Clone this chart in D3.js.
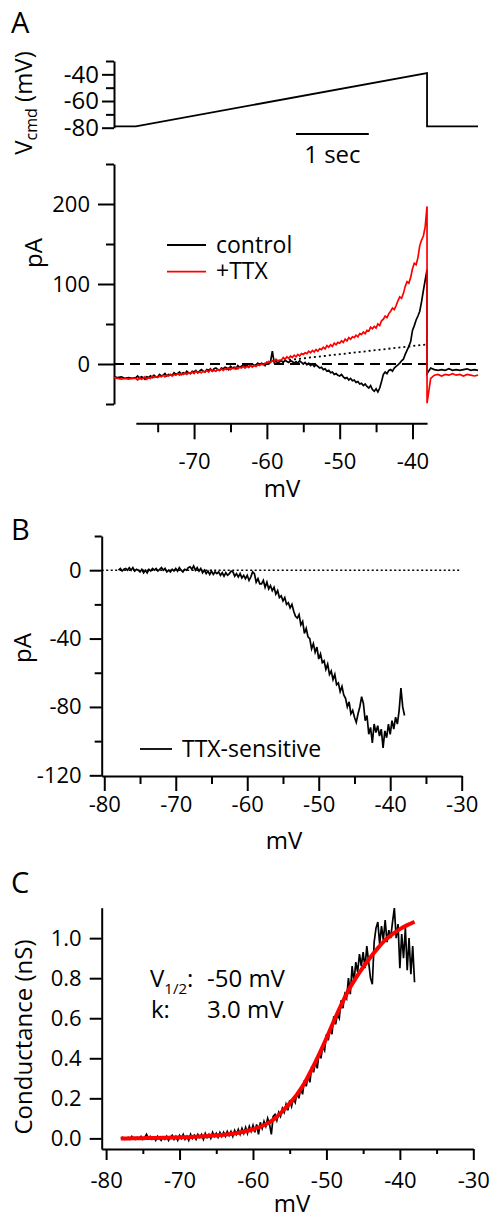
<!DOCTYPE html>
<html>
<head>
<meta charset="utf-8">
<script src="https://cdn.jsdelivr.net/npm/d3@7"></script>
<style>
  body { margin: 0; background: #fff; }
  svg { display: block; font-family: "Open Sans", sans-serif; }
</style>
</head>
<body>
<svg id="chart" width="493" height="1218"></svg>
<script>
// ---------- data ----------
// command voltage step/ramp (time in s, mV)
var cmdTime = [-0.3, 0, 4, 4, 4.7];
var cmdVolt = [-79, -79, -39, -79, -79];
var scaleBarSec = [2.2, 3.2];

// ramp sampled every 0.25 mV, -78 .. -38 (one row per mV)
var rampMV = d3.range(-78, -37.99, 0.25);

// panel A, control current (pA): holding before ramp, ramp, holding after
var ctrlPre = [-16, -17, -16, -18, -17, -18];
var ctrlRamp = [
  -17, -15, -18, -16,   -17, -19, -16, -17,   -15, -17, -14, -16,   -16, -13, -15, -14,
  -12, -15, -13, -14,   -14, -11, -13, -12,   -10, -13, -11, -12,   -9, -11, -12, -9,
  -10, -8, -11, -9,     -7, -9, -10, -7,      -8, -6, -9, -6,       -5, -7, -8, -5,
  -6, -4, -5, -7,       -3, -5, -4, -6,       -2, -4, -3, -1,       -3, -1, -4, -2,
  0, -2, -1, 1,         -1, 1, 0, -2,         2, 0, 3, 16,          2, 4, 1, 3,
  4, 2, 5, 3,           2, 4, 3, 1,           3, 1, 4, 2,           0, 2, -1, 1,
  -2, 0, -3, -1,        -3, -5, -4, -7,       -6, -9, -8, -11,      -10, -13, -12, -14,
  -15, -13, -16, -18,   -17, -20, -18, -21,   -20, -23, -22, -25,   -24, -27, -25, -28,
  -30, -27, -32, -34,   -31, -35, -30, -22,   -13, -10, -12, -8,    -7, -9, -5, -3,
  -1, 1, 4, 6,          12, 17, 22, 28,       42, 48, 55, 60,       66, 78, 92, 105,
  118];
var ctrlPost = [-12, -5, -7, -8, -7, -8, -6, -8, -7, -8, -7, -6, -8, -7, -8];

// panel A, +TTX current (pA)
var ttxPre = [-17, -18, -19, -18, -19, -18];
var ttxRamp = [
  -18, -20, -17, -19,   -18, -16, -19, -17,   -18, -15, -17, -16,   -17, -15, -16, -14,
  -16, -14, -15, -13,   -15, -13, -14, -12,   -14, -12, -13, -11,   -13, -11, -12, -10,
  -12, -9, -11, -10,    -11, -9, -10, -8,     -10, -7, -9, -8,      -9, -7, -8, -6,
  -8, -6, -7, -5,       -7, -5, -6, -4,       -6, -4, -5, -3,       -5, -3, -4, -2,
  -4, -2, -3, -1,       -2, 0, -1, 1,         1, 3, 2, 4,           3, 6, 4, 5,
  5, 8, 6, 9,           7, 10, 8, 11,         9, 12, 10, 13,        12, 14, 13, 16,
  14, 17, 15, 18,       16, 19, 18, 21,       19, 23, 21, 24,       22, 26, 24, 27,
  26, 29, 27, 31,       29, 33, 31, 34,       33, 36, 34, 38,       37, 40, 38, 42,
  41, 46, 44, 47,       45, 50, 48, 54,       56, 60, 58, 63,       66, 70, 68, 73,
  79, 84, 82, 88,       97, 103, 101, 108,    119, 126, 124, 133,   148, 155, 160, 172,
  197];
var ttxPost = [-49, -18, -14, -13, -15, -13, -14, -12, -14, -13, -15, -13, -14, -15, -14];

// leak extrapolation (dotted)
var leakMV = [-59, -38];
var leakPA = [3, 24.5];

// panel B, TTX-sensitive current (pA)
var ttxSens = [
  0, 1, -0.5, 0.5,      1, 0, 1.5, 0,         1.5, -0.5, 0.5, 0,    -1, 0.5, -1.5, 0,
  -1.5, 0.5, -0.5, 1,   0, 1, -0.5, 0.5,      1.5, 0, 1, -1,        0, -1, 0.5, -0.5,
  1, -0.5, 1.5, 0,      -1, 0.5, 0, 1.5,      2, 0.5, 2.5, 0,       1.5, -0.5, 1, -1.5,
  0, -2, -0.5, -2.5,    -0.5, -2.5, -1, -2,   -1, -3, -1.5, -3.5,   -1.5, -3, -2, -0.5,
  -1, -3.5, -2, -4,     -2, -4.5, -3, -5,     -3, -6, -4, -1,       -2, -7, -5, -8,
  -8, -6, -10, -7,      -11, -9, -12, -10,    -14, -12, -16, -15,   -18, -16, -20, -19,
  -22, -20, -24, -27,   -28, -26, -32, -30,   -37, -34, -39, -40,   -46, -43, -48, -45,
  -52, -49, -54, -53,   -58, -55, -61, -59,   -64, -61, -67, -66,   -71, -68, -73, -75,
  -80, -77, -84, -82,   -86, -89, -84, -80,   -74, -78, -88, -85,   -96, -92, -101, -90,
  -95, -91, -97, -93,   -104, -94, -98, -90,  -96, -88, -93, -86,   -90, -82, -69, -80,
  -85];

// panel C, conductance (nS)
var gData = [
  0, 0.005, -0.005, 0,        0.005, -0.005, 0.01, 0,     -0.005, 0.005, 0, 0.01,     -0.005, 0.005, 0.02, 0,
  0.01, -0.005, 0.005, -0.01, 0.01, 0, -0.01, 0.005,      -0.005, 0.01, -0.01, 0.005, 0.015, -0.005, 0.01, -0.01,
  0.015, 0, 0.02, -0.005,     0.01, -0.01, 0.02, 0,       0.015, -0.005, 0.02, 0.005, 0.02, -0.005, 0.025, 0.005,
  0.02, 0, 0.03, 0.01,        0.025, 0.005, 0.03, 0.01,   0.03, 0.01, 0.035, 0.015,   0.035, 0.01, 0.04, 0.02,
  0.045, 0.02, 0.05, 0.025,   0.055, 0.025, 0.06, 0.035,  0.065, 0.03, 0.07, 0.02,    0.08, 0.05, 0.085, 0.06,
  0.1, 0.07, 0.02, 0.11,      0.12, 0.09, 0.13, 0.11,     0.15, 0.13, 0.17, 0.14,     0.19, 0.16, 0.2, 0.18,
  0.23, 0.2, 0.25, 0.22,      0.29, 0.26, 0.31, 0.28,     0.36, 0.33, 0.38, 0.35,     0.43, 0.40, 0.46, 0.44,
  0.52, 0.49, 0.55, 0.52,     0.61, 0.57, 0.62, 0.6,      0.69, 0.65, 0.72, 0.70,     0.80, 0.72, 0.86, 0.78,
  0.88, 0.83, 0.92, 0.86,     0.93, 0.85, 0.96, 0.88,     0.80, 0.77, 0.98, 1.05,     1.08, 0.97, 1.06, 0.99,
  1.09, 0.98, 1.04, 1.0,      1.08, 1.15, 1.0, 1.07,      0.85, 1.02, 0.90, 1.05,     0.84, 1.0, 0.82, 0.96,
  0.78];
// Boltzmann fit, every 1 mV from -78 to -38
var fitMV = d3.range(-78, -37.99, 1);
var fitG = [0, 0, 0.001, 0.001, 0.002, 0.002, 0.003, 0.004, 0.005, 0.006, 0.008, 0.010, 0.012, 0.015, 0.018, 0.022, 0.028, 0.036, 0.045, 0.058,
  0.075, 0.100, 0.135, 0.175, 0.22, 0.275, 0.345, 0.42, 0.50, 0.585, 0.665, 0.74, 0.80, 0.855, 0.905, 0.95, 0.99, 1.02, 1.045, 1.065,
  1.082];

// ---------- drawing ----------
var svg = d3.select("#chart");

function styleAxis(g, size) {
  g.attr("font-family", null).attr("font-size", size);
  g.selectAll("path.domain").attr("stroke-width", 2);
  g.selectAll(".tick line").attr("stroke-width", 2);
  g.selectAll(".tick text").attr("fill", "#000");
}

function leftAxis(x, scale, major, minor, majLen, minLen, pad, fmt, size) {
  var gMin = svg.append("g").attr("transform", "translate(" + x + ",0)")
    .call(d3.axisLeft(scale).tickValues(minor).tickSize(minLen).tickSizeOuter(0).tickFormat(""));
  var gMaj = svg.append("g").attr("transform", "translate(" + x + ",0)")
    .call(d3.axisLeft(scale).tickValues(major).tickSize(majLen).tickPadding(pad).tickFormat(fmt));
  gMaj.select(".domain").remove();
  styleAxis(gMin, size || 22);
  styleAxis(gMaj, size || 22);
}

function bottomAxis(y, scale, major, minor, majLen, minLen, pad, fmt) {
  var gMin = svg.append("g").attr("transform", "translate(0," + y + ")")
    .call(d3.axisBottom(scale).tickValues(minor).tickSize(minLen).tickSizeOuter(0).tickFormat(""));
  var gMaj = svg.append("g").attr("transform", "translate(0," + y + ")")
    .call(d3.axisBottom(scale).tickValues(major).tickSize(majLen).tickPadding(pad).tickFormat(fmt));
  gMaj.select(".domain").remove();
  styleAxis(gMin, 22);
  styleAxis(gMaj, 22);
}

function yTitle(x, y, txt, size) {
  return svg.append("text")
    .attr("transform", "translate(" + x + "," + y + ") rotate(-90)")
    .attr("text-anchor", "middle")
    .attr("font-size", size)
    .text(txt);
}

function label(x, y, txt, size, anchor) {
  return svg.append("text").attr("x", x).attr("y", y)
    .attr("font-size", size).attr("text-anchor", anchor || "start").text(txt);
}

// plain hyphen minus, as in the original figure
var fmtInt = function(d) { return String(d); };

// ---- Panel A: command voltage ----
var xT = d3.scaleLinear().domain([-0.3, 4.7]).range([114, 478]);
var yCmd = d3.scaleLinear().domain([-80, -30]).range([127.7, 61]);
var rampTime = d3.scaleLinear().domain([-78, -38]).range([0, 4]);

label(11, 33, "A", 29);

leftAxis(114, yCmd, [-80, -60, -40], [-70, -50, -30], 12, 8, 3, fmtInt, 24);

var cmdLine = d3.line().x(function(d) { return xT(d[0]); }).y(function(d) { return yCmd(d[1]); });
svg.append("path")
  .datum(cmdTime.map(function(t, i) { return [t, cmdVolt[i]]; }))
  .attr("d", cmdLine).attr("fill", "none").attr("stroke", "#000").attr("stroke-width", 1.8);

svg.append("line")
  .attr("x1", xT(scaleBarSec[0])).attr("x2", xT(scaleBarSec[1]))
  .attr("y1", 134).attr("y2", 134)
  .attr("stroke", "#000").attr("stroke-width", 2);
label((xT(scaleBarSec[0]) + xT(scaleBarSec[1])) / 2, 163, "1 sec", 24, "middle");

var vcmd = svg.append("text")
  .attr("transform", "translate(32,103) rotate(-90)")
  .attr("text-anchor", "middle").attr("font-size", 24);
vcmd.append("tspan").text("V");
vcmd.append("tspan").attr("font-size", 16).attr("dy", 5).text("cmd");
vcmd.append("tspan").attr("dy", -5).text(" (mV)");

// ---- Panel A: currents ----
var yA = d3.scaleLinear().domain([-50, 250]).range([404, 164]);
var xMV_A = d3.scaleLinear().domain([-78, -38]).range([xT(0), xT(4)]);

leftAxis(114, yA, [0, 100, 200], [-50, 50, 150, 250], 16, 8, 8, fmtInt);
yTitle(42, 253, "pA", 24);

bottomAxis(423.3, xMV_A, [-70, -60, -50, -40], [-75, -65, -55, -45], 16, 9, 14, fmtInt);
label(282, 497, "mV", 24, "middle");

// zero line
svg.append("line")
  .attr("x1", xT(-0.3)).attr("x2", xT(4.7))
  .attr("y1", yA(0)).attr("y2", yA(0))
  .attr("stroke", "#000").attr("stroke-width", 1.8).attr("stroke-dasharray", "10,6");

function buildTrace(pre, ramp, post) {
  var pts = [];
  pre.forEach(function(v, i) { pts.push([-0.3 + i * 0.05, v]); });
  ramp.forEach(function(v, i) { pts.push([rampTime(rampMV[i]), v]); });
  post.forEach(function(v, i) { pts.push([4 + i * 0.05, v]); });
  return pts;
}

var traceA = d3.line().x(function(d) { return xT(d[0]); }).y(function(d) { return yA(d[1]); });

svg.append("path")
  .datum(leakMV.map(function(v, i) { return [rampTime(v), leakPA[i]]; }))
  .attr("d", traceA).attr("fill", "none").attr("stroke", "#000")
  .attr("stroke-width", 1.8).attr("stroke-dasharray", "2,3");

svg.append("path")
  .datum(buildTrace(ctrlPre, ctrlRamp, ctrlPost))
  .attr("d", traceA).attr("fill", "none").attr("stroke", "#000").attr("stroke-width", 1.7);

svg.append("path")
  .datum(buildTrace(ttxPre, ttxRamp, ttxPost))
  .attr("d", traceA).attr("fill", "none").attr("stroke", "#ff0000").attr("stroke-width", 1.7);

// legend A
var legA = [{name: "control", color: "#000", y: 245}, {name: "+TTX", color: "#ff0000", y: 271.7}];
legA.forEach(function(d) {
  svg.append("line").attr("x1", 167).attr("x2", 206).attr("y1", d.y).attr("y2", d.y)
    .attr("stroke", d.color).attr("stroke-width", 1.8);
  label(216, d.y + 7.5, d.name, 23);
});

// ---- Panel B ----
label(11, 540, "B", 29);
var xB = d3.scaleLinear().domain([-80.36, -30]).range([101.7, 461.7]);
var yB = d3.scaleLinear().domain([-120.4, 20]).range([776, 536]);

leftAxis(101.7, yB, [-120, -80, -40, 0], [-100, -60, -20, 20], 12, 7, 8, fmtInt);
bottomAxis(776, xB, [-80, -70, -60, -50, -40, -30], [-75, -65, -55, -45, -35], 15, 8, 5, fmtInt);
yTitle(31, 648, "pA", 24);
label(284, 849, "mV", 24, "middle");

svg.append("line")
  .attr("x1", xB(-80.36)).attr("x2", xB(-30))
  .attr("y1", yB(0)).attr("y2", yB(0))
  .attr("stroke", "#000").attr("stroke-width", 1.6).attr("stroke-dasharray", "2,2.5");

svg.append("path")
  .datum(rampMV.map(function(v, i) { return [v, ttxSens[i]]; }))
  .attr("d", d3.line().x(function(d) { return xB(d[0]); }).y(function(d) { return yB(d[1]); }))
  .attr("fill", "none").attr("stroke", "#000").attr("stroke-width", 1.7);

svg.append("line").attr("x1", 140).attr("x2", 172).attr("y1", 749).attr("y2", 749)
  .attr("stroke", "#000").attr("stroke-width", 1.8);
label(182, 757, "TTX-sensitive", 23);

// ---- Panel C ----
label(11, 893, "C", 29);
var xC = d3.scaleLinear().domain([-80.6, -30]).range([101.7, 473.3]);
var yC = d3.scaleLinear().domain([-0.053, 1.152]).range([1149, 907.7]);

leftAxis(101.7, yC, [0, 0.2, 0.4, 0.6, 0.8, 1.0], [], 12, 6, 8, d3.format(".1f"));
bottomAxis(1149, xC, [-80, -70, -60, -50, -40, -30], [-75, -65, -55, -45, -35], 11, 5, 12, fmtInt);
yTitle(32, 1037, "Conductance (nS)", 24);
label(292, 1212, "mV", 24, "middle");

var lineC = d3.line().x(function(d) { return xC(d[0]); }).y(function(d) { return yC(d[1]); });
svg.append("path")
  .datum(rampMV.map(function(v, i) { return [v, gData[i]]; }))
  .attr("d", lineC).attr("fill", "none").attr("stroke", "#000").attr("stroke-width", 1.7);
svg.append("path")
  .datum(fitMV.map(function(v, i) { return [v, fitG[i]]; }))
  .attr("d", lineC.curve(d3.curveMonotoneX)).attr("fill", "none")
  .attr("stroke", "#ff0000").attr("stroke-width", 4);

var vh = svg.append("text").attr("x", 150).attr("y", 987).attr("font-size", 24);
vh.append("tspan").text("V");
vh.append("tspan").attr("font-size", 15).attr("dy", 7).text("1/2");
vh.append("tspan").attr("dy", -7).text(":");
label(207, 987, "-50 mV", 24);
label(151, 1018, "k:", 24);
label(207, 1018, "3.0 mV", 24);
</script>
</body>
</html>
